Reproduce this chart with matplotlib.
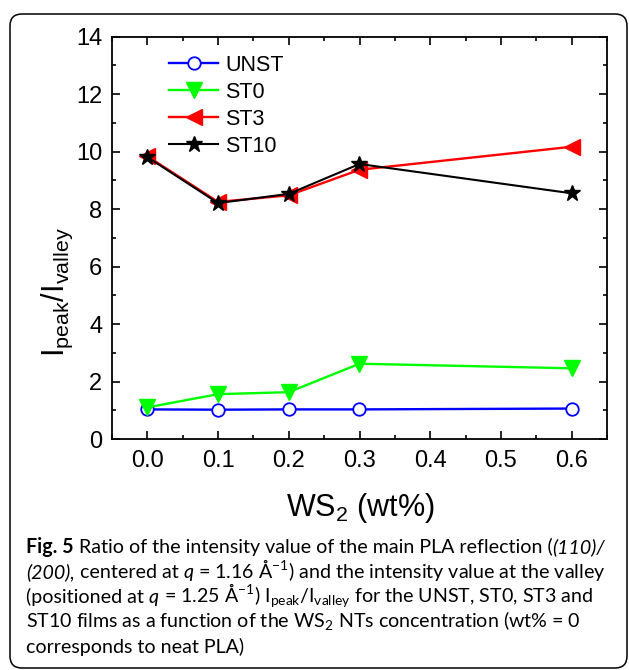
import matplotlib
matplotlib.use('Agg')
import matplotlib.pyplot as plt
from matplotlib import font_manager
from matplotlib.patches import FancyBboxPatch
from matplotlib.transforms import IdentityTransform
from matplotlib.ticker import MultipleLocator, FormatStrFormatter

# data
ws2 = [0.0, 0.1, 0.2, 0.3, 0.6]
unst = [1.03, 1.02, 1.03, 1.03, 1.06]
st0 = [1.10, 1.56, 1.63, 2.62, 2.46]
st3 = [9.84, 8.25, 8.48, 9.37, 10.17]
st10 = [9.81, 8.21, 8.53, 9.57, 8.55]
labels = ['UNST', 'ST0', 'ST3', 'ST10']

W, H = 629, 670
names = {f.name for f in font_manager.fontManager.ttflist}
cap_font = 'Liberation Sans Narrow' if 'Liberation Sans Narrow' in names else 'Lato'

plt.rcParams['font.family'] = ['Liberation Sans', 'DejaVu Sans']
plt.rcParams['mathtext.fontset'] = 'custom'
plt.rcParams['mathtext.rm'] = 'Liberation Sans'
plt.rcParams['mathtext.sf'] = cap_font

fig = plt.figure(figsize=(W / 100, H / 100), dpi=100)
ax = fig.add_axes([112 / W, 1 - 439 / H, 495 / W, 402.3 / H])

ax.plot(ws2, unst, color='#0000ff', lw=1.7, marker='o', ms=9,
        mfc='white', mec='#0000ff', mew=1.3, label=labels[0])
ax.plot(ws2, st0, color='#00ff00', lw=1.7, marker='v', ms=11,
        mfc='#00ff00', mec='#00ff00', label=labels[1])
ax.plot(ws2, st3, color='#ff0000', lw=1.7, marker='<', ms=11,
        mfc='#ff0000', mec='#ff0000', label=labels[2])
ax.plot(ws2, st10, color='black', lw=1.5, marker='*', ms=12,
        mfc='black', mec='black', label=labels[3])

ax.set_xlim(-0.05, 0.65)
ax.set_ylim(0, 14)
ax.xaxis.set_major_locator(MultipleLocator(0.1))
ax.xaxis.set_minor_locator(MultipleLocator(0.05))
ax.yaxis.set_major_locator(MultipleLocator(2))
ax.yaxis.set_minor_locator(MultipleLocator(1))
ax.xaxis.set_major_formatter(FormatStrFormatter('%.1f'))
ax.tick_params(which='both', direction='in', top=True, right=True,
               width=1.2, labelsize=17)
ax.tick_params(which='major', length=6)
ax.tick_params(which='minor', length=3)
ax.tick_params(axis='x', pad=8)
ax.tick_params(axis='y', pad=7)
for sp in ax.spines.values():
    sp.set_linewidth(1.3)

ax.legend(loc='upper left', bbox_to_anchor=(0.115, 0.955), frameon=False,
          fontsize=15.5, handlelength=2.3, handletextpad=0.3,
          labelspacing=0.28, borderpad=0, borderaxespad=0)

fig.text(57 / W, 1 - 292 / H, r'I$_{\mathrm{peak}}$/I$_{\mathrm{valley}}$',
         rotation=90, ha='center', va='center', fontsize=22)
fig.text(360 / W, 1 - 508 / H, r'WS$_{\mathrm{2}}$ (wt%)',
         ha='center', va='center', fontsize=22)

# rounded frame around figure + caption
frame = FancyBboxPatch((10, 2), 617, 654,
                       boxstyle='round,pad=0,rounding_size=12',
                       transform=IdentityTransform(), fill=False,
                       ec='black', lw=1.1)
fig.add_artist(frame)

caption = [
    [('Fig. 5', 'b'), (' Ratio of the intensity value of the main PLA reflection (', 'n'),
     ('(110)/', 'i')],
    [('(200),', 'i'), (' centered at ', 'n'), ('q', 'i'),
     (r' = 1.16 Å$^{\mathsf{-1}}$) and the intensity value at the valley', 'n')],
    [('(positioned at ', 'n'), ('q', 'i'),
     (r' = 1.25 Å$^{\mathsf{-1}}$) I$_{\mathsf{peak}}$/I$_{\mathsf{valley}}$ for the UNST, ST0, ST3 and', 'n')],
    [(r'ST10 films as a function of the WS$_{\mathsf{2}}$ NTs concentration (wt% = 0', 'n')],
    [('corresponds to neat PLA)', 'n')],
]
baselines = [553, 578, 603, 628, 653]
renderer = fig.canvas.get_renderer()


def style_kw(style, fs):
    kw = dict(fontsize=fs, family=[cap_font, 'DejaVu Sans'])
    if style == 'b':
        kw['weight'] = 'bold'
    if style == 'i':
        kw['style'] = 'italic'
    return kw


def text_width(s, style, fs):
    t = fig.text(0, 0, s, **style_kw(style, fs))
    w = t.get_window_extent(renderer).width
    t.remove()
    return w


def draw_line(y, parts, fs, draw=True):
    x = 26
    for s, style in parts:
        sp_w = text_width('x x', style, fs) - text_width('xx', style, fs)
        lead = len(s) - len(s.lstrip(' '))
        trail = len(s) - len(s.rstrip(' '))
        x += lead * sp_w
        core = s.strip(' ')
        if draw:
            t = fig.text(x / W, 1 - y / H, core, ha='left', va='baseline',
                         **style_kw(style, fs))
            w = t.get_window_extent(renderer).width
        else:
            w = text_width(core, style, fs)
        x += w + trail * sp_w
    return x


base_fs = 15
end2 = draw_line(baselines[1], caption[1], base_fs, draw=False)
cap_fs = min(15.5, base_fs * (607 - 26) / (end2 - 26))
for y, parts in zip(baselines, caption):
    draw_line(y, parts, cap_fs)

fig.savefig('out.png', dpi=100)
